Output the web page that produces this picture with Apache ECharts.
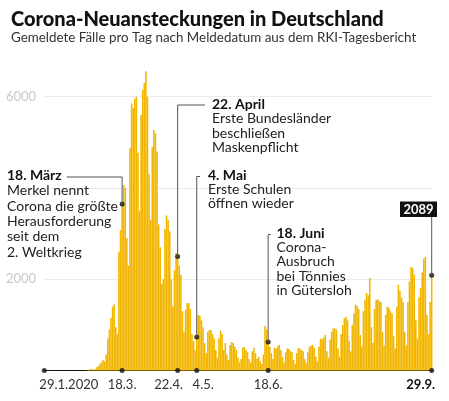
<!DOCTYPE html>
<html><head><meta charset="utf-8">
<script src="https://cdn.jsdelivr.net/npm/echarts@6/dist/echarts.min.js"></script>
<style>html,body{margin:0;padding:0;background:#fff}#c{width:449px;height:401px}</style>
</head><body><div id="c"></div>
<script>
// Daily reported cases, 29.1.2020 – 29.9.2020
const cases = [
 0,1,2,0,0,2,1,0,1,1,0,0,0,2,0,0,0,0,0,0,0,0,0,0,0,0,1,4,
 12,25,35,20,30,70,90,140,180,230,200,350,
 700,900,1150,1400,1450,950,800,
 2600,3080,3650,4070,4000,2900,2300,
 4880,5850,5750,5950,6000,4770,3500,
 5600,6150,6300,6560,6000,4300,3300,
 4900,5270,5200,4800,3200,2700,1900,
 2000,3100,3400,3300,3050,2000,1400,
 2200,2580,2500,2300,2100,1300,850,
 1330,1480,1470,1350,800,650,450,
 735,1220,1200,1100,950,600,380,
 850,890,880,800,700,450,280,
 700,870,800,450,600,350,230,
 560,625,600,520,450,280,180,
 250,500,515,450,400,250,170,
 420,500,380,250,300,200,140,
 350,980,900,625,520,380,250,
 500,480,530,560,450,300,180,
 400,480,470,430,400,230,150,
 380,490,480,450,420,250,160,
 400,520,540,560,500,300,200,
 520,700,680,720,780,420,280,
 680,850,925,920,900,480,300,
 800,1000,1145,1180,1100,650,420,
 1000,1250,1440,1420,1350,780,520,
 1300,1550,1700,1650,2030,950,600,
 1350,1550,1560,1520,1500,850,550,
 1220,1400,1380,1300,1250,750,480,
 1400,1880,1750,1600,1500,850,550,
 1500,1950,2270,2250,2100,1100,700,
 1600,1800,2150,2450,2490,1220,800,
 1500,2089
];
const categories = [];
const d0 = Date.UTC(2020, 0, 29);
for (let i = 0; i < cases.length; i++) {
  const d = new Date(d0 + i * 864e5);
  categories.push(d.getUTCDate() + '.' + (d.getUTCMonth() + 1) + '.');
}
const tickCats = ['29.1.', '18.3.', '22.4.', '4.5.', '18.6.', '29.9.'];
const tickLabels = ['29.1.2020', '18.3.', '22.4.', '4.5.', '18.6.', '29.9.'];
const yLabelled = [2000, 6000];
const eventDates = ['18.3.', '22.4.', '4.5.', '18.6.'];
const eventTitles = ['18. März', '22. April', '4. Mai', '18. Juni'];
const eventTexts = [
  'Merkel nennt\nCorona die größte\nHerausforderung\nseit dem\n2. Weltkrieg',
  'Erste Bundesländer\nbeschließen\nMaskenpflicht',
  'Erste Schulen\nöffnen wieder',
  'Corona-\nAusbruch\nbei Tönnies\nin Gütersloh'
];
const lastLabel = '29.9.';

const FONT = 'Lato';
const chart = echarts.init(document.getElementById('c'), null, {renderer: 'canvas'});
const labelStyles = ['a', 'n', 'b', 'c', 'n', 'd'];
const valOf = c => cases[categories.indexOf(c)];

chart.setOption({
  animation: false,
  backgroundColor: '#fff',
  title: {
    left: 6, top: 5,
    text: 'Corona-Neuansteckungen in Deutschland',
    subtext: 'Gemeldete Fälle pro Tag nach Meldedatum aus dem RKI-Tagesbericht',
    itemGap: 1,
    textStyle: {fontFamily: FONT, fontWeight: 900, fontSize: 20, color: '#111'},
    subtextStyle: {fontFamily: FONT, fontSize: 13.4, color: '#333'}
  },
  grid: {left: 44.3, right: 17.3, top: 96.7, bottom: 30.5},
  xAxis: {
    type: 'category', data: categories, boundaryGap: false,
    axisLine: {lineStyle: {color: '#111', width: 1}},
    axisTick: {show: false},
    axisLabel: {
      interval: (i, v) => tickCats.indexOf(v) >= 0,
      margin: 8,
      formatter: v => { const k = tickCats.indexOf(v); return '{' + labelStyles[k] + '|' + tickLabels[k] + '}'; },
      rich: {
        n: {fontFamily: FONT, fontSize: 13, color: '#333'},
        a: {fontFamily: FONT, fontSize: 13, color: '#333', padding: [0, 0, 0, 49]},
        b: {fontFamily: FONT, fontSize: 13, color: '#333', padding: [0, 18, 0, 0]},
        c: {fontFamily: FONT, fontSize: 13, color: '#333', padding: [0, 0, 0, 13]},
        d: {fontFamily: FONT, fontSize: 13, color: '#111', fontWeight: 'bold', padding: [0, 22, 0, 0]}
      }
    },
    splitLine: {show: false}
  },
  yAxis: {
    type: 'value', min: 0, max: 6000, interval: 2000,
    axisLine: {show: false}, axisTick: {show: false},
    splitLine: {lineStyle: {color: '#ebebeb', width: 1}},
    axisLabel: {
      align: 'left', margin: 38.3, color: '#c8c8c8', fontFamily: FONT, fontSize: 13,
      formatter: v => yLabelled.indexOf(v) >= 0 ? String(v) : ''
    }
  },
  series: [
    {type: 'bar', data: cases, barWidth: '100%', clip: false, silent: true,
     itemStyle: {color: '#f3b600'}},
    {type: 'scatter', data: tickCats.map(c => [c, 0]), symbolSize: 5, clip: false, silent: true, z: 10,
     itemStyle: {color: '#111'}},
    {type: 'scatter', data: eventDates.concat([lastLabel]).map(c => [c, valOf(c)]), symbolSize: 5, clip: false, silent: true, z: 10,
     itemStyle: {color: '#111'}}
  ]
});

const px = c => chart.convertToPixel({seriesIndex: 0}, [categories.indexOf(c), valOf(c)]);
const lineStyle = {stroke: '#555', lineWidth: 1};
const p0 = px('18.3.'), p1 = px('22.4.'), p2 = px('4.5.'), p3 = px('18.6.'), p4 = px('29.9.');
const gfx = [];
function block(x, y, title, body, lh) {
  gfx.push({type: 'text', left: x, top: y, z: 20,
    style: {text: title, font: 'bold 14px ' + FONT, fill: '#111'}});
  gfx.push({type: 'text', left: x, top: y + lh, z: 20,
    style: {text: body, font: '14px ' + FONT, fill: '#222', lineHeight: lh}});
}
function poly(points) { gfx.push({type: 'polyline', z: 15, shape: {points}, style: lineStyle}); }
poly([[66.7, 177], [p0[0], 177], [p0[0], p0[1]]]);
poly([[205, 105], [p1[0], 105], [p1[0], p1[1]]]);
poly([[200, 176.5], [p2[0], 176.5], [p2[0], p2[1]]]);
poly([[270.7, 234.5], [p3[0], 234.5], [p3[0], p3[1]]]);
poly([[p4[0], 216], [p4[0], p4[1]]]);
block(7, 168, eventTitles[0], eventTexts[0], 15.3);
block(212, 97, eventTitles[1], eventTexts[1], 14.5);
block(208, 168, eventTitles[2], eventTexts[2], 14);
block(276.5, 226, eventTitles[3], eventTexts[3], 14.3);
gfx.push({type: 'rect', z: 20, shape: {x: 400, y: 201.5, width: 37, height: 15.5}, style: {fill: '#111'}});
gfx.push({type: 'text', z: 21, x: 418.5, y: 209.5,
  style: {text: String(valOf(lastLabel)), font: 'bold 13px ' + FONT, fill: '#fff', align: 'center', verticalAlign: 'middle'}});
chart.setOption({graphic: gfx});
</script></body></html>
